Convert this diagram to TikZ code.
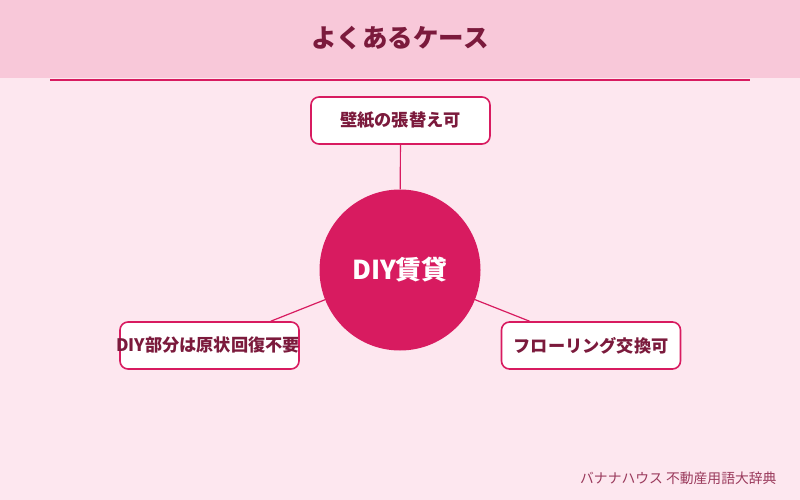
\documentclass[tikz,border=0pt]{standalone}
\usepackage{fontspec}
\setmainfont{Noto Sans CJK JP}

\definecolor{fondrose}{HTML}{FDE7EF}
\definecolor{bandeau}{HTML}{F8C8D9}
\definecolor{accent}{HTML}{D81B60}
\definecolor{texte}{HTML}{7B1A3C}
\definecolor{source}{HTML}{9A3A5C}

\tikzset{
  boite/.style={draw=accent, line width=1.6pt, fill=white,
    rounded corners=8pt, minimum width=179pt, minimum height=47pt},
  etiq/.style={text=texte, font=\bfseries\fontsize{17.2}{19}\selectfont},
  lien/.style={draw=accent, line width=1.2pt}
}

\begin{document}
\begin{tikzpicture}[x=1pt,y=-1pt]

% Fond
\useasboundingbox (0,0) rectangle (800,500);
\fill[fondrose]
(0,0)
rectangle
(800,500);

% En-tête
\fill[bandeau]
(0,0)
rectangle
(800,78);

\node[text=texte, font=\bfseries\fontsize{25.5}{28}\selectfont] (titre) at (400,38)
{よくあるケース};

\draw[accent,line width=2pt]
(50,80.5)
--
(750,80.5);

% Centre
\node[circle, fill=accent, minimum size=161pt, inner sep=0pt,
  text=white, font=\bfseries\fontsize{26}{28}\selectfont] (centre) at (400,270)
{DIY賃貸};

% Cas
\node[boite, etiq] (mur) at (400.5,120.5)
{壁紙の張替え可};

\node[boite] (gauche) at (209.5,345.5) {};
\node[etiq] at (208,345.5)
{DIY部分は原状回復不要};

\node[boite, etiq] (droite) at (591,345.5)
{フローリング交換可};

% Liens
\draw[lien]
(mur)
--
(centre);

\draw[lien]
(centre)
--
(gauche);

\draw[lien]
(centre)
--
(droite);

% Source
\node[anchor=east, text=source, font=\fontsize{13.8}{15}\selectfont] (src) at (780,478)
{バナナハウス 不動産用語大辞典};

\end{tikzpicture}
\end{document}
